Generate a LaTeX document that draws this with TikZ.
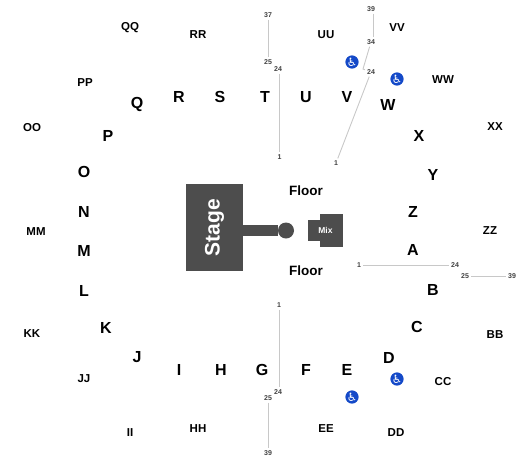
\documentclass[tikz,border=0pt]{standalone}
\usepackage{fontspec}
\setmainfont{Liberation Sans}
\newfontfamily\symfont{DejaVu Sans}
\usetikzlibrary{positioning,calc}
\definecolor{stagegray}{HTML}{4D4D4D}
\definecolor{rowline}{HTML}{C8C8C8}
\definecolor{adablue}{HTML}{1449C8}

\begin{document}
\begin{tikzpicture}[
  x=1pt, y=-1pt,
  lower/.style={font=\bfseries\fontsize{16}{16}\selectfont, inner sep=0pt},
  upper/.style={font=\bfseries\fontsize{11.5}{11.5}\selectfont, inner sep=0pt},
  seatno/.style={font=\bfseries\fontsize{7}{7}\selectfont, text=black!75, inner sep=2pt},
  darkbox/.style={draw=none, fill=stagegray, text=white, inner sep=0pt},
  floorlbl/.style={font=\bfseries\fontsize{13.5}{13.5}\selectfont, inner sep=0pt},
  ada/.style={circle, fill=adablue, text=white, minimum size=13pt, inner sep=0pt,
              font=\symfont\fontsize{11.5}{11.5}\selectfont},
  rowln/.style={draw=rowline, line width=0.9pt}
]
\useasboundingbox (0,0) rectangle (525,464);

% ── Stage and mix ─────────────────────────────────────────────
\node[darkbox, minimum width=57pt, minimum height=87pt] (stage) at (214.5,227.5)
  {\rotatebox{90}{\bfseries\fontsize{21}{21}\selectfont Stage}};
\node[darkbox, circle, minimum size=16pt] (thrust) at (286,230.5) {};
\draw[draw=stagegray, line width=10.5pt] (stage.east |- thrust) -- (thrust);
\node[darkbox, minimum width=23pt, minimum height=33pt] (mixback) at (331.5,230.5) {};
\node[darkbox, minimum width=35pt, minimum height=21pt,
      font=\bfseries\fontsize{8.5}{8.5}\selectfont] (mix) at (325.5,230.5) {Mix};
\node[floorlbl] (floortop) at (306,191) {Floor};
\node[floorlbl] (floorbot) at (306,271) {Floor};

% ── Lower sections ────────────────────────────────────────────
\foreach \name/\px/\py in {Q/137/104, R/179/97, S/220/97, T/265/97, U/306/97, V/347/97,
    W/388/105, X/419/136, Y/433/175, Z/413/212, A/413/250, B/433/290, C/417/327,
    D/389/358, E/347/370, F/306/370, G/262/370, H/221/370, I/179/370, J/137/357,
    K/106/328, L/84/291, M/84/251, N/84/212, O/84/172, P/108/136}
  \node[lower] (sec\name) at (\px,\py) {\name};

% ── Upper sections ────────────────────────────────────────────
\foreach \name/\px/\py in {QQ/130/28, RR/198/35, UU/326/35, VV/397/28, WW/443/80,
    XX/495/127, ZZ/490/231, BB/495/335, CC/443/382, DD/396/433, EE/326/429,
    HH/198/429, II/130/433, JJ/84/379, KK/32/334, MM/36/232, OO/32/128, PP/85/83}
  \node[upper] (sec\name) at (\px,\py) {\name};

% ── Accessible seating ────────────────────────────────────────
\node[ada] (adaV) at (352,62) {♿};
\node[ada] (adaW) at (397,79) {♿};
\node[ada] (adaD) at (397,379) {♿};
\node[ada] (adaE) at (352,397) {♿};

% ── Seat numbers ──────────────────────────────────────────────
\node[seatno] (t37) at (268,15) {37};
\node[seatno] (t25) at (268,62) {25};
\node[seatno] (t24) at (278,69) {24};
\node[seatno] (t1) at (279.5,157) {1};
\node[seatno] (v39) at (371,9) {39};
\node[seatno] (v34) at (371,42) {34};
\node[seatno] (v24) at (371,72) {24};
\node[seatno] (v1) at (336,163) {1};
\node[seatno] (a1) at (359,265) {1};
\node[seatno] (a24) at (455,265) {24};
\node[seatno] (a25) at (465,276) {25};
\node[seatno] (a39) at (512,276) {39};
\node[seatno] (g1) at (279,305) {1};
\node[seatno] (g24) at (278,392) {24};
\node[seatno] (g25) at (268,398) {25};
\node[seatno] (g39) at (268,453) {39};
\coordinate (vbend) at (363,69);

% ── Row lines ─────────────────────────────────────────────────
\draw[rowln] (t37) -- (t25);
\draw[rowln] (t1 |- t24.south) -- (t1);
\draw[rowln] ([xshift=2pt]v39.south) -- ([xshift=2pt]v34.north);
\draw[rowln] (v34) -- (vbend) -- (v24);
\draw[rowln] (v24) -- (v1);
\draw[rowln] (a1) -- (a24);
\draw[rowln] (a25) -- (a39);
\draw[rowln] (g1) -- (g1 |- g24.north);
\draw[rowln] (g25) -- (g39);
\end{tikzpicture}
\end{document}
